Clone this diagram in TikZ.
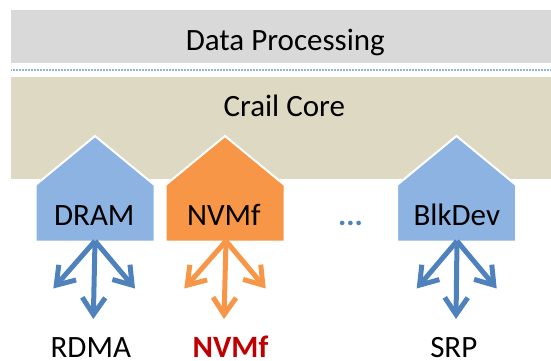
\documentclass[tikz,border=0pt]{standalone}
\usepackage{fontspec}
\setmainfont{Carlito}
\usetikzlibrary{arrows.meta}
\definecolor{bandgray}{HTML}{D9D9D9}
\definecolor{bandbeige}{HTML}{DDD9C3}
\definecolor{tierblue}{HTML}{8DB3E2}
\definecolor{tierorange}{HTML}{F79646}
\definecolor{arrblue}{HTML}{4F81BD}
\definecolor{dotblue}{HTML}{95B3D7}
\definecolor{darkred}{HTML}{C00000}
\tikzset{
  lbl/.style={font=\fontsize{31}{32}\selectfont, inner sep=0pt, anchor=base},
  botlbl/.style={lbl, text depth=0pt},
  house/.style={line width=2pt, draw=white, line join=miter},
  fan/.style={line width=5pt, -{Straight Barb[length=17pt,width=23pt,line width=5pt]}},
}
\begin{document}
\begin{tikzpicture}[x=1pt,y=-1pt]
\useasboundingbox (0,0) rectangle (551,360);
% bands
\fill[bandgray] (11,10) rectangle (551,62.7);
\node[lbl] (dp) at (285.3,50) {Data Processing};
\draw[dotblue, line width=1.5pt, dash pattern=on 1pt off 0.5pt] (11,70) -- (551,70);
\fill[bandbeige] (11,77.3) rectangle (551,179);
\node[lbl] (cc) at (284.3,116.7) {Crail Core};
% houses
\foreach \cx/\col/\nm/\txt/\tx in {95/tierblue/dram/DRAM/94.3, 225/tierorange/nvmf/NVMf/223.8, 456.5/tierblue/blk/BlkDev/456.8}{
  \filldraw[house, fill=\col] (\cx-59.5,241.7) -- (\cx-59.5,185) -- (\cx,136) -- (\cx+59.5,185) -- (\cx+59.5,241.7) -- cycle;
  \node[lbl] (\nm) at (\tx,225) {\txt};
}
\node[lbl, text=arrblue, font=\fontsize{31}{32}\selectfont\bfseries] (dots) at (350.6,225) {...};
% arrows
\foreach \nm/\sx/\lx/\dx/\rx/\col in {dram/95/53.3/93.3/135/arrblue, nvmf/226/184.3/224/265.7/tierorange, blk/457/416.7/456/496.7/arrblue}{
  \coordinate (\nm-s) at (\sx,241);
  \coordinate (\nm-l) at (\lx,288.5);
  \coordinate (\nm-d) at (\dx,319);
  \coordinate (\nm-r) at (\rx,288.5);
  \draw[fan, \col] (\nm-s) -- (\nm-l);
  \draw[fan, \col] (\nm-s) -- (\nm-d);
  \draw[fan, \col] (\nm-s) -- (\nm-r);
}
\node[botlbl] (rdma) at (90.8,357.5) {RDMA};
\node[botlbl, text=darkred, font=\fontsize{31}{32}\selectfont\bfseries] (nvmfp) at (230.5,357.5) {NVMf};
\node[botlbl] (srp) at (453.8,357.5) {SRP};
\end{tikzpicture}
\end{document}
